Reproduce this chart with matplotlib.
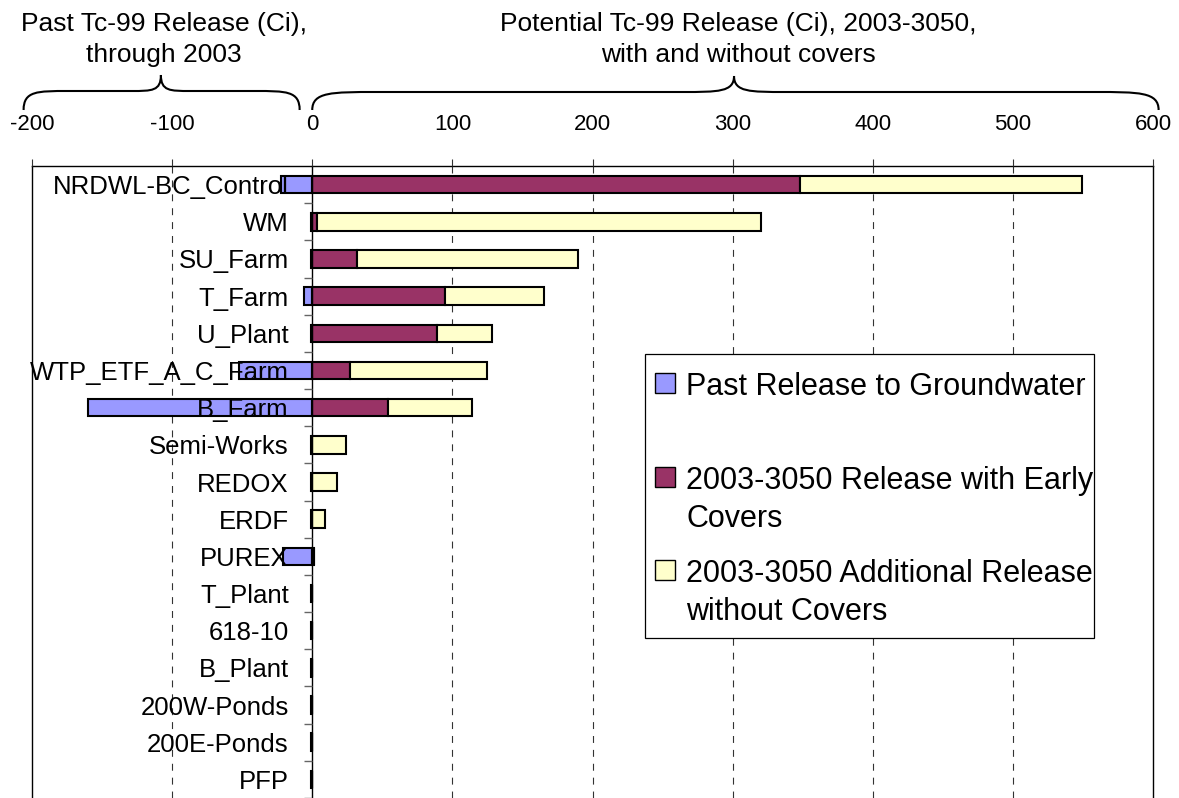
import matplotlib
matplotlib.use("Agg")
import numpy as np
import matplotlib.pyplot as plt
from matplotlib import transforms
from matplotlib.path import Path
from matplotlib.patches import PathPatch, Rectangle

plt.rcParams['font.family'] = ['Liberation Sans', 'DejaVu Sans']
plt.rcParams['lines.scale_dashes'] = False

# ---- data (Ci of Tc-99) ----
sites = ["NRDWL-BC_Control", "WM", "SU_Farm", "T_Farm", "U_Plant",
         "WTP_ETF_A_C_Farm", "B_Farm", "Semi-Works", "REDOX", "ERDF",
         "PUREX", "T_Plant", "618-10", "B_Plant", "200W-Ponds",
         "200E-Ponds", "PFP"]
past_release = [-22, -1, -1, -6, -1, -52, -160, -1, -1, -1,
                -21, -1, -1, -1, -1, -1, -1]
early_cover_release = [348, 3.5, 32, 95, 89, 27, 54, 0, 0, 0,
                       1, 0, 0, 0, 0, 0, 0]
extra_release_no_cover = [201, 316.5, 157.5, 70.5, 39, 98, 60, 24, 18, 9,
                          0, 0, 0, 0, 0, 0, 0]
x_ticks = [-200, -100, 0, 100, 200, 300, 400, 500, 600]
legend_labels = ["Past Release to Groundwater",
                 "2003-3050 Release with Early\nCovers",
                 "2003-3050 Additional Release\nwithout Covers"]
header_past = "Past Tc-99 Release (Ci),\nthrough 2003"
header_future = "Potential Tc-99 Release (Ci), 2003-3050,\nwith and without covers"

c_past = "#9999FF"
c_early = "#993366"
c_extra = "#FFFFCC"

W, H = 1179, 798
fig = plt.figure(figsize=(W / 100, H / 100), dpi=100)


def fx(px):
    return px / W


def fy(py):
    return 1 - py / H


ax = fig.add_axes([fx(32), 0, fx(1153) - fx(32), fy(166)])

y = np.arange(len(sites))
bar_h = 0.47
edge = dict(edgecolor="black", linewidth=1.5)
ax.barh(y, past_release, height=bar_h, color=c_past, **edge)
ax.barh(y, early_cover_release, height=bar_h, color=c_early, **edge)
ax.barh(y, extra_release_no_cover, left=early_cover_release, height=bar_h,
        color=c_extra, **edge)

ax.set_xlim(x_ticks[0], x_ticks[-1])
ax.set_ylim(len(sites) - 0.5, -0.5)

# value axis on top
ax.xaxis.tick_top()
ax.set_xticks(x_ticks)
ax.set_xticklabels([str(v) for v in x_ticks])
ax.tick_params(axis="x", which="major", direction="out", length=5, width=0.8,
               color="#333333", labelsize=16, pad=17)

# dashed grid lines behind the bars
for xv in x_ticks[1:-1]:
    if xv != 0:
        ax.axvline(xv, color="#333333", lw=0.8, linestyle=(0, (5, 5)), zorder=0.5)

# category axis crossing at zero
ax.spines["left"].set_position(("data", 0))
ax.spines["left"].set_linewidth(1.0)
ax.spines["bottom"].set_visible(False)
ax.spines["top"].set_linewidth(1.0)
ax.spines["right"].set_linewidth(1.0)
ax.axvline(x_ticks[0], color="black", lw=1.0, clip_on=False, zorder=2.5)

ax.set_yticks(y)
ax.set_yticklabels(sites)
ax.set_yticks(y + 0.5, minor=True)
ax.tick_params(axis="y", which="major", length=0, pad=17, labelsize=18.5)
ax.tick_params(axis="y", which="minor", direction="out", length=6, width=1.0,
               color="#666666")
ax.set_axisbelow(False)


# curly braces above the axis
def brace(x0, x1, xm, r_end, r_mid, y_tip, y_line, y_peak):
    tr = transforms.blended_transform_factory(ax.transData, fig.transFigure)
    verts = [
        (x0, y_tip), (x0, y_line), (x0 + 0.3 * r_end, y_line), (x0 + r_end, y_line),
        (xm - r_mid, y_line),
        (xm - 0.3 * r_mid, y_line), (xm, y_line), (xm, y_peak),
        (xm, y_line), (xm + 0.3 * r_mid, y_line), (xm + r_mid, y_line),
        (x1 - r_end, y_line),
        (x1 - 0.3 * r_end, y_line), (x1, y_line), (x1, y_tip),
    ]
    codes = [Path.MOVETO, Path.CURVE4, Path.CURVE4, Path.CURVE4,
             Path.LINETO,
             Path.CURVE4, Path.CURVE4, Path.CURVE4,
             Path.CURVE4, Path.CURVE4, Path.CURVE4,
             Path.LINETO,
             Path.CURVE4, Path.CURVE4, Path.CURVE4]
    patch = PathPatch(Path(verts, codes), transform=tr, fill=False,
                      edgecolor="black", lw=1.5, clip_on=False)
    fig.add_artist(patch)


brace(-206, -9, -108, 32, 21, fy(110), fy(91), fy(75))
brace(0, 604, 301, 46, 37, fy(110), fy(92), fy(76))

tr_head = transforms.blended_transform_factory(ax.transData, fig.transFigure)
fig.text(-106, fy(12), header_past, transform=tr_head, ha="center", va="top",
         fontsize=19, linespacing=1.35)
fig.text(304, fy(12), header_future, transform=tr_head, ha="center", va="top",
         fontsize=19, linespacing=1.35)

# legend box
fig.add_artist(Rectangle((fx(645), fy(638)), fx(1094) - fx(645), fy(354) - fy(638),
                         transform=fig.transFigure, facecolor="white",
                         edgecolor="black", lw=0.9, zorder=4))
entry_tops = [372, 466, 559]
for label, color, top in zip(legend_labels, [c_past, c_early, c_extra], entry_tops):
    cy = top + 11
    fig.add_artist(Rectangle((fx(655), fy(cy + 10)), fx(20), 20 / H,
                             transform=fig.transFigure, facecolor=color,
                             edgecolor="black", lw=1.0, zorder=5))
    fig.text(fx(686), fy(top), label, ha="left", va="top", fontsize=22,
             linespacing=1.35, zorder=5)

fig.savefig("out.png", dpi=100)
